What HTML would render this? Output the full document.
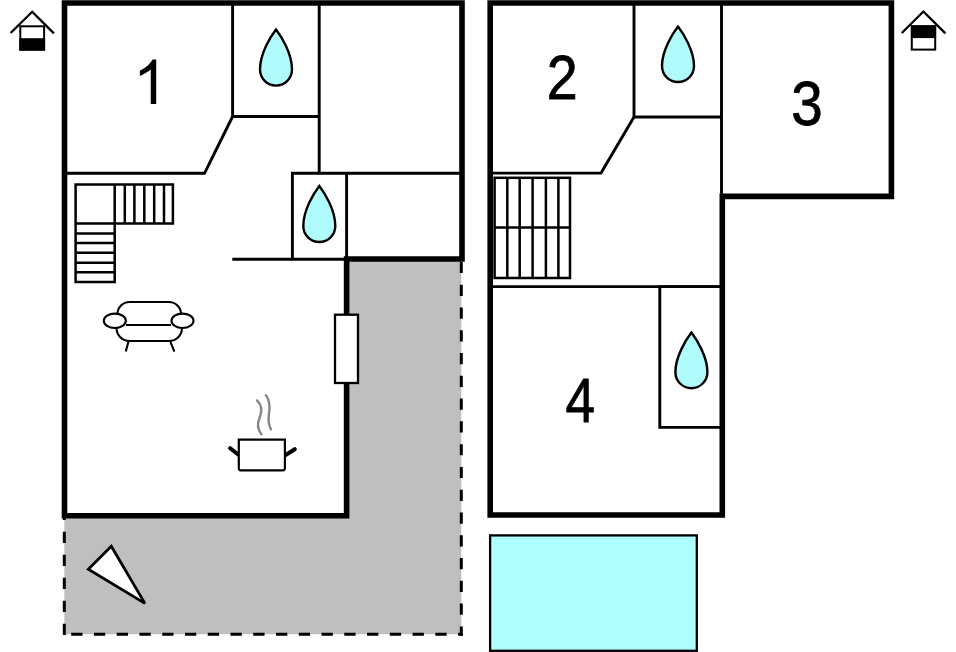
<!DOCTYPE html>
<html><head><meta charset="utf-8">
<style>
html,body{margin:0;padding:0;background:#fff;width:956px;height:652px;overflow:hidden}
svg{display:block}
text{font-family:"Liberation Sans",sans-serif}
</style></head>
<body>
<svg width="956" height="652" viewBox="0 0 956 652">
<!-- terrace -->
<path d="M346.6,259 H461.3 V634.2 H64.3 V515.8 H346.6 Z" fill="#bfbfbf"/>
<g stroke="#000" stroke-width="3" fill="none">
<path d="M461.3,260.9 V635.6" stroke-dasharray="11.2 11.58" stroke-dashoffset="-1"/>
<path d="M463,634.2 H62.8" stroke-dasharray="11.3 11.46" stroke-dashoffset="6.4"/>
<path d="M64.3,635.6 V517" stroke-dasharray="11.3 11.7" stroke-dashoffset="-0.5"/>
</g>
<!-- pool -->
<rect x="490.1" y="535.4" width="206.7" height="115.4" fill="#b0ffff" stroke="#000" stroke-width="2.3"/>
<!-- walls -->
<g stroke="#000" stroke-width="5.6" fill="none" stroke-linejoin="miter">
<path d="M64.5,3 H462 V259 H346.6 V515.8 H64.5 Z"/>
<path d="M490.2,3 H891.4 V196.4 H722.3 V515 H490.2 Z"/>
</g>
<!-- thin interior lines -->
<g stroke="#000" stroke-width="2.9" fill="none">
<path d="M232.6,5 V116.5 H319.2 M319.2,5 V173.3"/>
<path d="M67,173.3 H204.5 L232.6,116.5"/>
<path d="M292.4,260 V173.3 H462"/>
<path d="M346.6,173.3 V259"/>
<path d="M232.3,259.2 H346.6" stroke-width="3"/>
<path d="M634,5 V117 H721.5 M721.5,5 V196.4"/>
<path d="M493,173.1 H601 L634,117"/>
<path d="M493,286.6 H722"/>
<path d="M722,286.6 H659.8 V427.4 H722"/>
</g>
<!-- stairs left -->
<g stroke="#000" stroke-width="2.5" fill="none">
<path d="M75.6,184.6 H172.9 V223.5 H114.7 V282 H75.6 Z"/>
<path d="M114.7,184.6 V223.5 H75.6"/>
<path d="M124.8,184.6 V223.5 M134.4,184.6 V223.5 M144.3,184.6 V223.5 M154.2,184.6 V223.5 M164,184.6 V223.5"/>
<path d="M75.6,233.4 H114.7 M75.6,242.9 H114.7 M75.6,252.7 H114.7 M75.6,262.8 H114.7 M75.6,272.3 H114.7"/>
</g>
<!-- stairs right -->
<g stroke="#000" stroke-width="2.5" fill="none">
<rect x="494.6" y="177.8" width="75.4" height="100.2"/>
<path d="M494.6,227.6 H570"/>
<path d="M507.3,177.8 V278 M519.7,177.8 V278 M532.6,177.8 V278 M545.9,177.8 V278 M558.4,177.8 V278"/>
</g>
<!-- drops -->
<g stroke="#000" stroke-width="2.4" fill="#b0fcfc">
<path d="M276,29.5 C281,36 292,53 292,69.6 A16,16 0 0 1 260,69.6 C260,53 271,36 276,29.5 Z"/>
<path d="M319.3,186 C324.3,192.5 335.3,209.5 335.3,226 A16,16 0 0 1 303.3,226 C303.3,209.5 314.3,192.5 319.3,186 Z"/>
<path d="M678,26.6 C683,33 694,50 694,66 A16,16 0 0 1 662,66 C662,50 673,33 678,26.6 Z"/>
<path d="M691.4,332.6 C696.4,339.1 707.4,356.3 707.4,372.2 A16,16 0 0 1 675.4,372.2 C675.4,356.3 686.4,339.1 691.4,332.6 Z"/>
</g>
<!-- sofa -->
<g stroke="#000" stroke-width="2.1" fill="none">
<path d="M117.5,314 A12,12 0 0 1 129.5,302 H169 A12,12 0 0 1 181,314"/>
<path d="M126,325 H171"/>
<path d="M116.5,328 A13,13 0 0 0 129.5,341 H169 A13,13 0 0 0 182,328"/>
<ellipse cx="114.8" cy="320.8" rx="11" ry="7.2"/>
<ellipse cx="182.5" cy="320.8" rx="11" ry="7.2"/>
<path d="M128.4,341.8 L125.8,351.6 M170.4,341.8 L174.4,351.6"/>
</g>
<!-- window -->
<rect x="335" y="314.7" width="23" height="68.3" fill="#fff" stroke="#000" stroke-width="2.3"/>
<!-- pot -->
<g fill="none" stroke="#000">
<path d="M230.2,448.2 L240,456 M284,456 L294.8,449.2" stroke-width="4" stroke-linecap="round"/>
<path d="M238.8,439.7 H284.9 V468.3 Q284.9,470.3 282.9,470.3 H240.8 Q238.8,470.3 238.8,468.3 Z" stroke-width="2.2" fill="#fff"/>
<path d="M257,400.4 C262,405 262,412 259.5,418 C257,424 258,430 261.4,434.2" stroke="#858585" stroke-width="2.4" stroke-linecap="round"/>
<path d="M265.8,395.2 C270,400 270,407 269,413.5 C268,420 268.5,425 271,429.3" stroke="#858585" stroke-width="2.4" stroke-linecap="round"/>
</g>
<!-- north arrow -->
<path d="M111.3,546.2 L88.3,569.3 L144.9,603.4 Z" fill="#fff" stroke="#000" stroke-width="2.8" stroke-linejoin="miter"/>
<!-- house icons -->
<g stroke="#000" stroke-width="2.3" fill="none">
<path d="M10.6,33 L32.2,11.8 L53.9,33.4"/>
<rect x="20.3" y="26.3" width="23.8" height="23.3" fill="#fff" stroke-width="2"/>
<rect x="19.3" y="38.2" width="25.8" height="12.4" fill="#000" stroke="none"/>
<path d="M901.8,33 L923.4,11.5 L945.4,33.4"/>
<rect x="911.8" y="26.3" width="23.4" height="23.3" fill="#fff" stroke-width="2"/>
<rect x="910.9" y="25.3" width="25.2" height="12.8" fill="#000" stroke="none"/>
</g>
<!-- numbers -->
<path d="M156.20,103.90 L150.78,103.90 L150.78,69.38 Q148.83,71.24 145.63,73.11 Q142.44,74.97 139.89,75.91 L139.89,70.67 Q144.43,68.53 147.83,65.49 Q151.23,62.45 152.65,59.59 L156.20,59.59 Z" fill="#000"/>
<g font-size="64" fill="#000" stroke="#000" stroke-width="0.8">
<text transform="translate(562.2,99.0) scale(0.87,0.97)" text-anchor="middle">2</text>
<text transform="translate(806.9,125.3) scale(0.885,0.983)" text-anchor="middle">3</text>
<text transform="translate(580.3,421.8) scale(0.83,0.985)" text-anchor="middle">4</text>
</g>
</svg>
</body></html>
